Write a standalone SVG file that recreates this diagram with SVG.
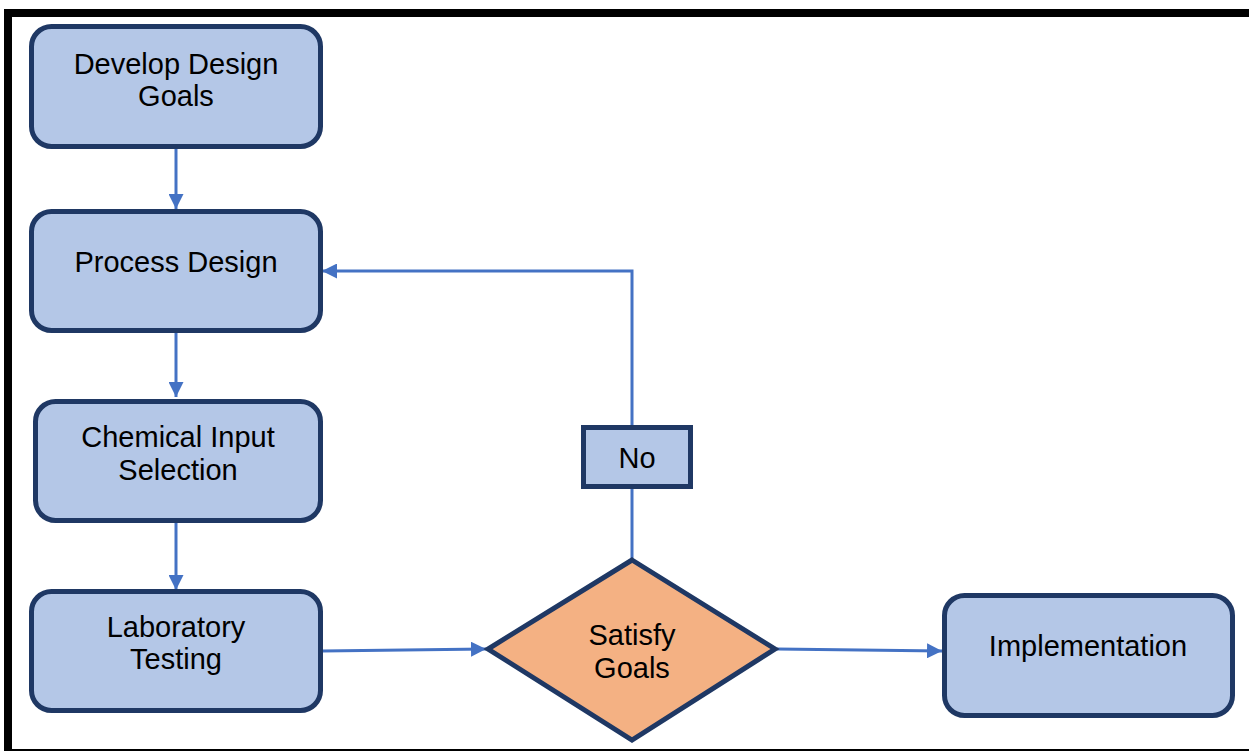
<svg xmlns="http://www.w3.org/2000/svg" width="1249" height="751" viewBox="0 0 1249 751">
  <defs>
    <marker id="arrow" viewBox="0 0 10 10" refX="10" refY="5" markerWidth="5" markerHeight="5" markerUnits="strokeWidth" orient="auto">
      <path d="M0,0 L10,5 L0,10 Z" fill="#4472C4"/>
    </marker>
    <style>
      .box { fill: #B4C7E7; stroke: #1F3864; stroke-width: 5; }
      .decision { fill: #F4B183; stroke: #1F3864; stroke-width: 5; stroke-linejoin: miter; }
      .label { font-family: "Liberation Sans", Arial, sans-serif; font-size: 29px; fill: #000; text-anchor: middle; }
      .link { fill: none; stroke: #4472C4; stroke-width: 3; }
    </style>
  </defs>

  <rect width="1249" height="751" fill="#FFFFFF"/>
  <!-- outer frame -->
  <rect x="8" y="13" width="1260" height="740" fill="none" stroke="#000" stroke-width="8"/>

  <g id="connectors">
    <line class="link" x1="176" y1="149" x2="176" y2="209" marker-end="url(#arrow)"/>
    <line class="link" x1="176" y1="333" x2="176" y2="397" marker-end="url(#arrow)"/>
    <line class="link" x1="176" y1="522" x2="176" y2="590" marker-end="url(#arrow)"/>
    <line class="link" x1="322" y1="651" x2="486" y2="649" marker-end="url(#arrow)"/>
    <line class="link" x1="777" y1="649" x2="942" y2="651" marker-end="url(#arrow)"/>
    <line class="link" x1="632" y1="558" x2="632" y2="489"/>
    <polyline class="link" points="632,425 632,271 322,271" marker-end="url(#arrow)"/>
  </g>

  <g id="develop-design-goals">
    <rect class="box" x="31.5" y="26.5" width="289" height="120" rx="20"/>
    <text class="label" x="176" y="74">Develop Design</text>
    <text class="label" x="176" y="106">Goals</text>
  </g>

  <g id="process-design">
    <rect class="box" x="31.5" y="211.5" width="289" height="119" rx="20"/>
    <text class="label" x="176" y="272">Process Design</text>
  </g>

  <g id="chemical-input-selection">
    <rect class="box" x="35.5" y="401.5" width="285" height="119" rx="20"/>
    <text class="label" x="178" y="447">Chemical Input</text>
    <text class="label" x="178" y="480">Selection</text>
  </g>

  <g id="laboratory-testing">
    <rect class="box" x="31.5" y="591.5" width="289" height="119" rx="20"/>
    <text class="label" x="176" y="637">Laboratory</text>
    <text class="label" x="176" y="669">Testing</text>
  </g>

  <g id="satisfy-goals">
    <polygon class="decision" points="632,560 775,649 632,740 488,649"/>
    <text class="label" x="632" y="645">Satisfy</text>
    <text class="label" x="632" y="678">Goals</text>
  </g>

  <g id="no">
    <rect class="box" x="583.5" y="427.5" width="107" height="59"/>
    <text class="label" x="637" y="468">No</text>
  </g>

  <g id="implementation">
    <rect class="box" x="944.5" y="595.5" width="288" height="120" rx="20"/>
    <text class="label" x="1088" y="656">Implementation</text>
  </g>
</svg>
